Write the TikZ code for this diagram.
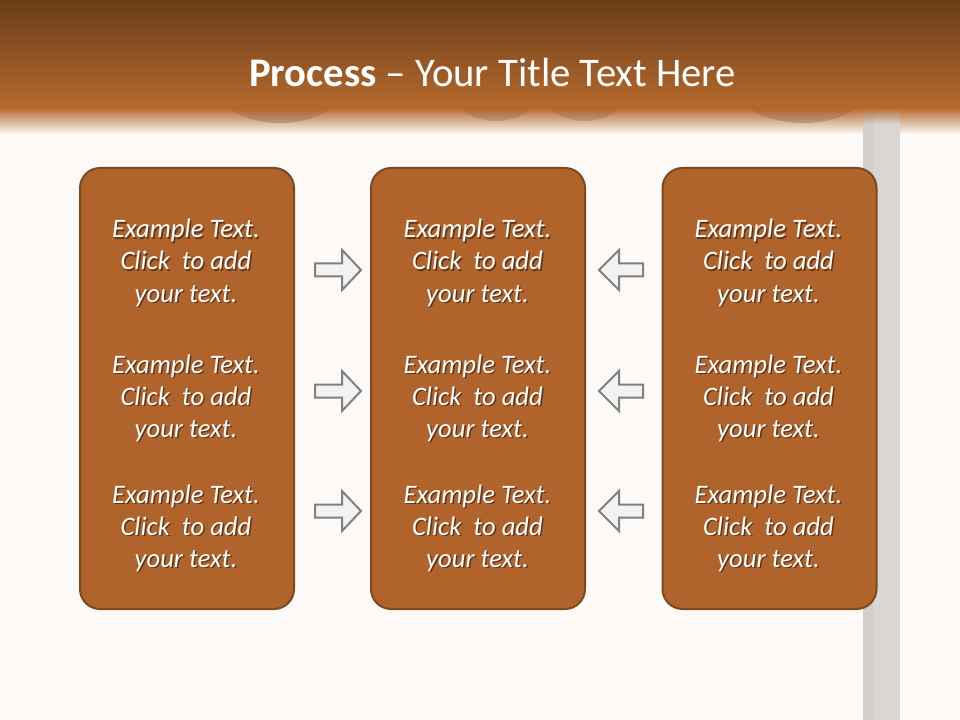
\documentclass[tikz,border=0pt]{standalone}
\usepackage{fontspec}
\setmainfont{Carlito}
\definecolor{bg}{HTML}{FCF9F6}
\definecolor{hdtop}{HTML}{6B3E18}
\definecolor{hdbot}{HTML}{B5692D}
\definecolor{boxfill}{HTML}{B0642C}
\definecolor{boxline}{HTML}{7D4A1F}
\definecolor{arrfill}{HTML}{F2F2F2}
\definecolor{arrline}{HTML}{808080}
\definecolor{pillarc}{HTML}{DAD6D4}
\definecolor{pillard}{HTML}{D2CECC}
\definecolor{bumpc}{HTML}{B8AAA3}
\begin{document}
\begin{tikzpicture}[x=0.75pt,y=-0.75pt,
  procbox/.style={draw=boxline, line width=1.5pt, fill=boxfill, rounded corners=15pt,
    minimum width=160.5pt, minimum height=330.75pt, inner sep=0pt},
  arrshape/.style={fill=arrfill, draw=arrline, line width=1.5pt},
  bodytext/.style={font=\fontsize{20}{24}\selectfont\itshape, text=white, anchor=base, inner sep=0pt},
  shadowtext/.style={font=\fontsize{20}{24}\selectfont\itshape, text=black, opacity=0.45, anchor=base, inner sep=0pt}]
\useasboundingbox (0,0) rectangle (960,720);
\fill[bg] (0,0) rectangle (960,720);
% header
\shade[top color=hdtop, bottom color=hdbot] (0,0) rectangle (960,108);
\shade[top color=hdbot, bottom color=bg] (0,107.5) rectangle (960,134);
% pillar
\fill[pillarc] (863,134) rectangle (900,720);
\fill[pillard] (863,134) rectangle (874,720);
\shade[top color=hdbot, bottom color=pillarc] (863,107.5) rectangle (900,124);
\shade[top color=hdbot, bottom color=pillard] (863,107.5) rectangle (874,124);
\fill[pillarc] (863,124) rectangle (900,134.5);
\fill[pillard] (863,124) rectangle (874,134.5);
% bumps
\foreach \a/\b/\d in {230/330/123, 462/530/121, 551/618/121, 751/855/123}{
  \shade[top color=hdbot, bottom color=bumpc] (\a,109) .. controls ({\a+0.25*(\b-\a)},{(4*\d-109)/3}) and ({\b-0.25*(\b-\a)},{(4*\d-109)/3}) .. (\b,109) -- cycle;
}
% title
\node[font=\fontsize{30.5}{36}\selectfont, text=white, anchor=base, inner sep=0pt] (title) at (492.5,87) {\textbf{Process} – Your Title Text Here};
% boxes
\node[procbox] (b1) at (187,388.5) {};
\node[procbox] (b2) at (478,388.5) {};
\node[procbox] (b3) at (769.5,388.5) {};
% text
\foreach \c/\cx in {1/186,2/477.5,3/768.5}{
  \foreach \r/\by in {1/238,2/373,3/503}{
    \foreach \l/\txt in {1/Example Text.,2/Click~ to add,3/your text.}{
      \node[shadowtext] (s\c\r\l) at ({\cx+1.5},{\by+32*(\l-1)+1.5}) {\txt};
      \node[bodytext] (t\c\r\l) at (\cx,{\by+32*(\l-1)}) {\txt};
    }
  }
}
% arrows
\foreach \cy in {270,391,511}{
  \draw[arrshape] (315,\cy-6.5) -- (342,\cy-6.5) -- (342,\cy-20) -- (361,\cy) -- (342,\cy+20) -- (342,\cy+6.5) -- (315,\cy+6.5) -- cycle;
  \draw[arrshape] (643,\cy-6.5) -- (619,\cy-6.5) -- (619,\cy-20) -- (599,\cy) -- (619,\cy+20) -- (619,\cy+6.5) -- (643,\cy+6.5) -- cycle;
}
\end{tikzpicture}
\end{document}
